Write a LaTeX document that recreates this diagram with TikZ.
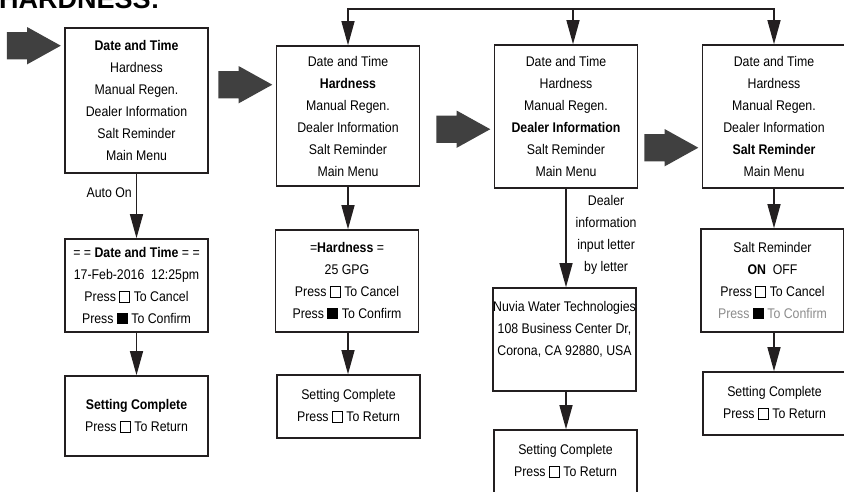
\documentclass[tikz,border=0pt]{standalone}
\usepackage{fontspec}
\setmainfont{Liberation Sans}[FakeStretch=0.88]
\newfontfamily\headfont{Liberation Sans}
\usepackage{xcolor}
\definecolor{SoftLine}{HTML}{231F20}
\definecolor{SoftArrow}{HTML}{404040}
\definecolor{SoftGrey}{HTML}{8C8C8C}
\usetikzlibrary{arrows.meta,positioning,calc,shapes.arrows}
\newcommand{\keyopen}{{\setlength{\fboxsep}{0pt}\setlength{\fboxrule}{1pt}\framebox[11pt]{\rule[-0.5pt]{0pt}{10pt}}}}
\newcommand{\keyshut}{\rule[-0.5pt]{11pt}{11pt}}

\begin{document}
\begin{tikzpicture}[
  x=1pt,y=-1pt,
  screen/.style={draw=SoftLine,line width=1.6pt,fill=white,minimum width=143pt,inner sep=0pt,align=center,font=\fontsize{14}{22}\selectfont},
  flow/.style={draw=SoftLine,line width=1.3pt,-{Triangle[length=24pt,width=13pt]}},
  push/.style={single arrow,fill=SoftArrow,draw=none,minimum width=37pt,minimum height=54pt,single arrow head extend=5pt,single arrow tip angle=58,inner xsep=0pt,inner ysep=13.5pt,anchor=tip},
  note/.style={font=\fontsize{14}{22}\selectfont,align=center}
]
  \useasboundingbox (0,0) rectangle (844,491);
  \clip (0,0) rectangle (844,491);
  \node[anchor=base west,inner sep=0pt,font=\headfont\bfseries\fontsize{27}{27}\selectfont] (heading) at (-1,8) {HARDNESS:};
  % menu screens
  \node[screen,minimum height=145pt] (m1) at (136.5,100.5) {\textbf{Date and Time}\\Hardness\\Manual Regen.\\Dealer Information\\Salt Reminder\\Main Menu};
  \node[screen,minimum height=140pt] (m2) at (348,116) {Date and Time\\\textbf{Hardness}\\Manual Regen.\\Dealer Information\\Salt Reminder\\Main Menu};
  \node[screen,minimum height=143pt] (m3) at (566,116.5) {Date and Time\\Hardness\\Manual Regen.\\\textbf{Dealer Information}\\Salt Reminder\\Main Menu};
  \node[screen,minimum height=143pt] (m4) at (774,116.5) {Date and Time\\Hardness\\Manual Regen.\\Dealer Information\\\textbf{Salt Reminder}\\Main Menu};
  % setting screens
  \node[screen,minimum height=93pt] (m1b) at (136.5,285.5) {= = \textbf{Date and Time} = =\\17-Feb-2016\ \ 12:25pm\\Press \keyopen{} To Cancel\\Press \keyshut{} To Confirm};
  \node[screen,minimum height=102pt] (m2b) at (347,281) {=\textbf{Hardness} =\\25 GPG\\Press \keyopen{} To Cancel\\Press \keyshut{} To Confirm};
  \node[screen,minimum height=103pt] (m3b) at (564.5,339.5) {Nuvia Water Technologies\\108 Business Center Dr,\\Corona, CA 92880, USA\\ };
  \node[screen,minimum height=103pt] (m4b) at (772.5,280.5) {Salt Reminder\\\textbf{ON}\ \ OFF\\Press \keyopen{} To Cancel\\{\color{SoftGrey}Press} \keyshut{} {\color{SoftGrey}To Confirm}};
  % done screens
  \node[screen,minimum height=80pt] (m1c) at (136.5,416) {\textbf{Setting Complete}\\Press \keyopen{} To Return};
  \node[screen,minimum height=63pt] (m2c) at (348.5,406.5) {Setting Complete\\Press \keyopen{} To Return};
  \node[screen,minimum height=63pt] (m3c) at (565.5,461.5) {Setting Complete\\Press \keyopen{} To Return};
  \node[screen,minimum height=63pt] (m4c) at (774.5,403.5) {Setting Complete\\Press \keyopen{} To Return};
  % big arrows
  \node[push] (a1) at ([xshift=-3pt,yshift=-18.5pt]m1.north west) {};
  \node[push] (a2) at ([xshift=-3pt,yshift=-39.5pt]m2.north west) {};
  \node[push] (a3) at ([xshift=-3pt,yshift=-85pt]m3.north west) {};
  \node[push] (a4) at ([xshift=-3pt,yshift=-103.5pt]m4.north west) {};
  % connectors
  \draw[flow] (m1.south) -- node[note,left,pos=0.3,inner sep=4pt] (autonote) {Auto On} (m1b.north);
  \draw[flow] (m1b.south) -- (m1c.north);
  \draw[flow] (m2.south) -- (m2.south |- m2b.north);
  \draw[flow] (m2.south |- m2b.south) -- (m2.south |- m2c.north);
  \draw[flow] (m3.south) -- node[note,right,pos=0.47,inner sep=9pt] (dealnote) {Dealer\\information\\input letter\\by letter} (m3.south |- m3b.north);
  \draw[flow] (m3.south |- m3b.south) -- (m3.south |- m3c.north);
  \draw[flow] (m4.south) -- (m4.south |- m4b.north);
  \draw[flow] (m4.south |- m4b.south) -- (m4.south |- m4c.north);
  % return rail
  \coordinate (rail) at (347,9);
  \coordinate (m3in) at ([xshift=7pt]m3.north);
  \draw[draw=SoftLine,line width=1.3pt,line cap=rect] (m2.north |- rail) -- (m4.north |- rail);
  \draw[flow] (m2.north |- rail) -- (m2.north);
  \draw[flow] (m3in |- rail) -- (m3in);
  \draw[flow] (m4.north |- rail) -- (m4.north);
\end{tikzpicture}
\end{document}
